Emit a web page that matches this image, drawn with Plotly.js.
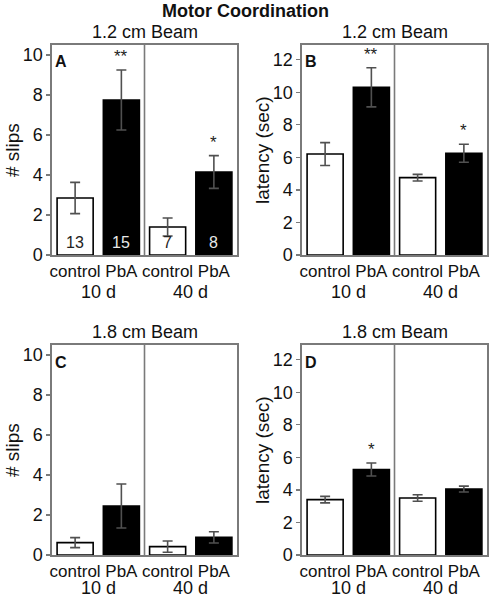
<!DOCTYPE html>
<html>
<head>
<meta charset="utf-8">
<script src="https://cdn.plot.ly/plotly-3.0.1.min.js"></script>
<style>html,body{margin:0;padding:0;background:#fff}#chart{width:489px;height:600px}</style>
</head>
<body>
<div id="chart"></div>
<script>
// ---- data ----
var categories = ["control", "PbA", "control", "PbA"];
var groupLabels = ["10 d", "40 d"];
var panelLetters = ["A", "B", "C", "D"];
var panelTitles = ["1.2 cm Beam", "1.2 cm Beam", "1.8 cm Beam", "1.8 cm Beam"];
var yTitles = ["# slips", "latency (sec)", "# slips", "latency (sec)"];

var slips12 = [2.85, 7.75, 1.4, 4.15];
var slips12Err = [0.78, 1.5, 0.45, 0.82];
var latency12 = [6.2, 10.3, 4.75, 6.25];
var latency12Err = [0.7, 1.2, 0.2, 0.55];
var slips18 = [0.62, 2.45, 0.42, 0.88];
var slips18Err = [0.25, 1.1, 0.28, 0.28];
var latency18 = [3.4, 5.25, 3.5, 4.05];
var latency18Err = [0.2, 0.4, 0.2, 0.18];

var nPerGroup = ["13", "15", "7", "8"];
var sigA = ["", "**", "", "*"];
var sigB = ["", "**", "", "*"];
var sigC = ["", "", "", ""];
var sigD = ["", "*", "", ""];

// ---- layout ----
var W = 489, H = 600;
function px(x) { return x / W; }
function py(y) { return 1 - y / H; }

var panels = [
  {vals: slips12, err: slips12Err, sig: sigA, x0: 52, x1: 237, y0: 45, y1: 255, ymax: 10.5, dtick: 2, gOff: 37},
  {vals: latency12, err: latency12Err, sig: sigB, x0: 302, x1: 487, y0: 45, y1: 255, ymax: 12.9, dtick: 2, gOff: 37},
  {vals: slips18, err: slips18Err, sig: sigC, x0: 52, x1: 237, y0: 345, y1: 555, ymax: 10.5, dtick: 2, gOff: 33},
  {vals: latency18, err: latency18Err, sig: sigD, x0: 302, x1: 487, y0: 345, y1: 555, ymax: 12.9, dtick: 2, gOff: 33}
];

var FONT = "Liberation Sans, Arial, sans-serif";
var xIdx = [0, 1, 2, 3];
var fills = ["#ffffff", "#000000", "#ffffff", "#000000"];

var traces = [];
var layout = {
  width: W, height: H,
  margin: {l: 0, r: 0, t: 0, b: 0},
  paper_bgcolor: "#fff", plot_bgcolor: "#fff",
  showlegend: false,
  bargap: 0.22,
  font: {family: FONT, size: 16, color: "#111"},
  annotations: [], shapes: []
};

layout.annotations.push({
  text: "<b>Motor Coordination</b>", xref: "paper", yref: "paper",
  x: px(245), y: py(11), xanchor: "center", yanchor: "middle",
  showarrow: false, font: {family: FONT, size: 18, color: "#111"}
});

panels.forEach(function (p, i) {
  var n = i + 1;
  var xa = "x" + (n === 1 ? "" : n), ya = "y" + (n === 1 ? "" : n);
  var xk = "xaxis" + (n === 1 ? "" : n), yk = "yaxis" + (n === 1 ? "" : n);
  traces.push({
    type: "bar", x: xIdx, y: p.vals, xaxis: xa, yaxis: ya,
    marker: {color: fills, line: {color: "#000", width: 1.6}},
    error_y: {type: "data", array: p.err, visible: true, color: "#505050", thickness: 1.6, width: 5},
    hoverinfo: "none"
  });
  layout[xk] = {
    domain: [px(p.x0), px(p.x1)], anchor: ya,
    range: [-0.5, 3.5], tickmode: "array", tickvals: xIdx, ticktext: categories,
    showline: true, mirror: true, linecolor: "#7a7a7a", linewidth: 1.6,
    ticks: "", showgrid: false, zeroline: false, fixedrange: true,
    tickfont: {family: FONT, size: 17, color: "#111"}
  };
  layout[yk] = {
    domain: [py(p.y1), py(p.y0)], anchor: xa,
    range: [0, p.ymax], dtick: p.dtick, tick0: 0,
    showline: true, mirror: true, linecolor: "#7a7a7a", linewidth: 1.6,
    ticks: "outside", ticklen: 4, tickcolor: "#7a7a7a", tickwidth: 1.4,
    showgrid: false, zeroline: false, fixedrange: true,
    tickfont: {family: FONT, size: 18, color: "#111"}
  };
  // divider between 10 d and 40 d
  layout.shapes.push({
    type: "line", xref: xa, yref: ya + " domain", x0: 1.5, x1: 1.5, y0: 0, y1: 1,
    line: {color: "#7a7a7a", width: 1.6}
  });
  // panel title
  layout.annotations.push({
    text: panelTitles[i], xref: "paper", yref: "paper",
    x: px((p.x0 + p.x1) / 2), y: py(p.y0 - 13), xanchor: "center", yanchor: "middle",
    showarrow: false, font: {family: FONT, size: 18, color: "#111"}
  });
  // y title
  layout.annotations.push({
    text: yTitles[i], xref: "paper", yref: "paper", textangle: -90,
    x: px(p.x0 - 40), y: py((p.y0 + p.y1) / 2), xanchor: "center", yanchor: "middle",
    showarrow: false, font: {family: FONT, size: 19, color: "#111"}
  });
  // panel letter
  layout.annotations.push({
    text: "<b>" + panelLetters[i] + "</b>", xref: "paper", yref: "paper",
    x: px(p.x0 + 9), y: py(p.y0 + 17), xanchor: "center", yanchor: "middle",
    showarrow: false, font: {family: FONT, size: 16, color: "#111"}
  });
  // group labels
  groupLabels.forEach(function (g, gi) {
    layout.annotations.push({
      text: g, xref: xa, yref: "paper", x: gi * 2 + 0.5, y: py(p.y1 + p.gOff),
      xanchor: "center", yanchor: "middle", showarrow: false,
      font: {family: FONT, size: 18, color: "#111"}
    });
  });
  // significance stars
  p.sig.forEach(function (s, k) {
    if (!s) return;
    layout.annotations.push({
      text: s, xref: xa, yref: ya, x: xIdx[k], y: p.vals[k] + p.err[k],
      xanchor: "center", yanchor: "bottom", yshift: 2, showarrow: false,
      font: {family: FONT, size: 17, color: "#222"}
    });
  });
  // n per group (panel A only)
  if (i === 0) {
    nPerGroup.forEach(function (t, k) {
      layout.annotations.push({
        text: t, xref: xa, yref: ya, x: xIdx[k], y: 0,
        xanchor: "center", yanchor: "bottom", yshift: 2, showarrow: false,
        font: {family: FONT, size: 16, color: k % 2 ? "#e8e8e8" : "#222"}
      });
    });
  }
});

Plotly.newPlot("chart", traces, layout, {staticPlot: true});
</script>
</body>
</html>
